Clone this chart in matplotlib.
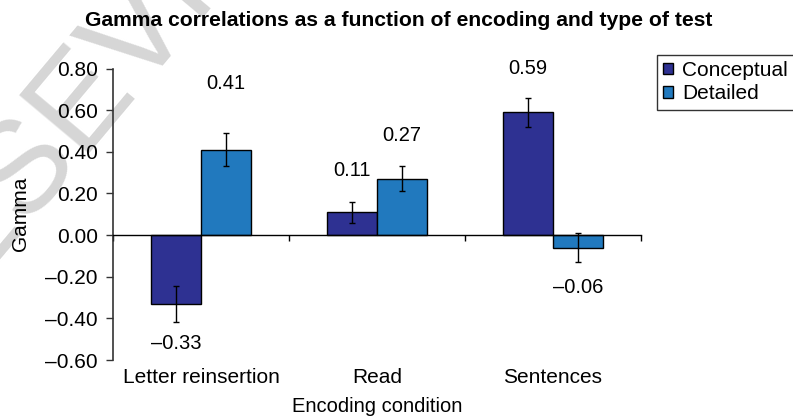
import numpy as np
import matplotlib.pyplot as plt
from matplotlib.ticker import FuncFormatter

# Gamma correlations by encoding condition and type of test
categories = ['Letter reinsertion', 'Read', 'Sentences']
conceptual = [-0.33, 0.11, 0.59]
detailed = [0.41, 0.27, -0.06]
conceptual_err = [0.087, 0.05, 0.07]
detailed_err = [0.08, 0.06, 0.07]

# where the value labels sit, relative to the bar value
conceptual_lbl_off = [-0.19, 0.20, 0.21]
detailed_lbl_off = [0.32, 0.21, -0.19]

col_conc = '#2e3192'
col_det = '#2179be'


def dash_fmt(v, pos=None):
    return f"{v:.2f}".replace('-', '\u2013')


plt.rcParams['font.family'] = ['Liberation Sans', 'DejaVu Sans']

fig = plt.figure(figsize=(7.93, 4.19), dpi=100)
ax = fig.add_axes([0.1425, 0.1408, 0.6658, 0.6957])
ax.patch.set_alpha(0)

# faint watermark in the upper left corner, behind everything
fig.text(-0.103, 0.177, 'ELSEVIER', rotation=50, rotation_mode='anchor',
         ha='left', va='baseline', fontsize=95, color='#d6d6d6', zorder=-5)

x = np.arange(len(categories))
w = 0.284
ekw = dict(ecolor='black', elinewidth=1, capsize=2.5, capthick=1)
ax.bar(x - w / 2, conceptual, w, yerr=conceptual_err, color=col_conc,
       edgecolor='black', linewidth=1, label='Conceptual', error_kw=ekw, zorder=2)
ax.bar(x + w / 2, detailed, w, yerr=detailed_err, color=col_det,
       edgecolor='black', linewidth=1, label='Detailed', error_kw=ekw, zorder=2)

for i in range(len(categories)):
    ax.text(x[i] - w / 2, conceptual[i] + conceptual_lbl_off[i], dash_fmt(conceptual[i]),
            ha='center', va='center', fontsize=14.5)
    ax.text(x[i] + w / 2, detailed[i] + detailed_lbl_off[i], dash_fmt(detailed[i]),
            ha='center', va='center', fontsize=14.5)

ax.set_xlim(-0.5, 2.5)
ax.set_ylim(-0.6, 0.8)
ax.set_yticks(np.arange(-0.6, 0.81, 0.2))
ax.yaxis.set_major_formatter(FuncFormatter(dash_fmt))
ax.tick_params(axis='y', direction='out', length=5, width=1, labelsize=15, pad=6,
               color='#333333')

# zero line with small ticks between the groups
ax.spines['bottom'].set_position(('data', 0))
ax.spines['bottom'].set_linewidth(1)
ax.set_xticks(np.arange(-0.5, 2.6, 1.0))
ax.tick_params(axis='x', direction='out', length=4, width=1, labelbottom=False)
ax.spines['left'].set_color('#333333')
ax.spines['left'].set_linewidth(1.2)
for s in ['top', 'right']:
    ax.spines[s].set_visible(False)

sec = ax.secondary_xaxis('bottom')
sec.set_xticks(x, categories)
sec.tick_params(length=0, pad=6, labelsize=15)
sec.spines['bottom'].set_visible(False)
sec.set_xlabel('Encoding condition', fontsize=14.5, labelpad=7)

ax.set_ylabel('Gamma', fontsize=15, labelpad=11)
fig.text(0.503, 0.952, 'Gamma correlations as a function of encoding and type of test',
         ha='center', va='center', fontsize=15.2, fontweight='bold')

leg = ax.legend(loc='upper left', bbox_to_anchor=(0.8285, 0.8687),
                bbox_transform=fig.transFigure, fancybox=False, edgecolor='black',
                handlelength=0.45, handleheight=0.45, handletextpad=0.45,
                borderpad=0.3, labelspacing=0.2, borderaxespad=0, fontsize=15)
leg.get_frame().set_linewidth(1)

fig.savefig('out.png', dpi=100)
